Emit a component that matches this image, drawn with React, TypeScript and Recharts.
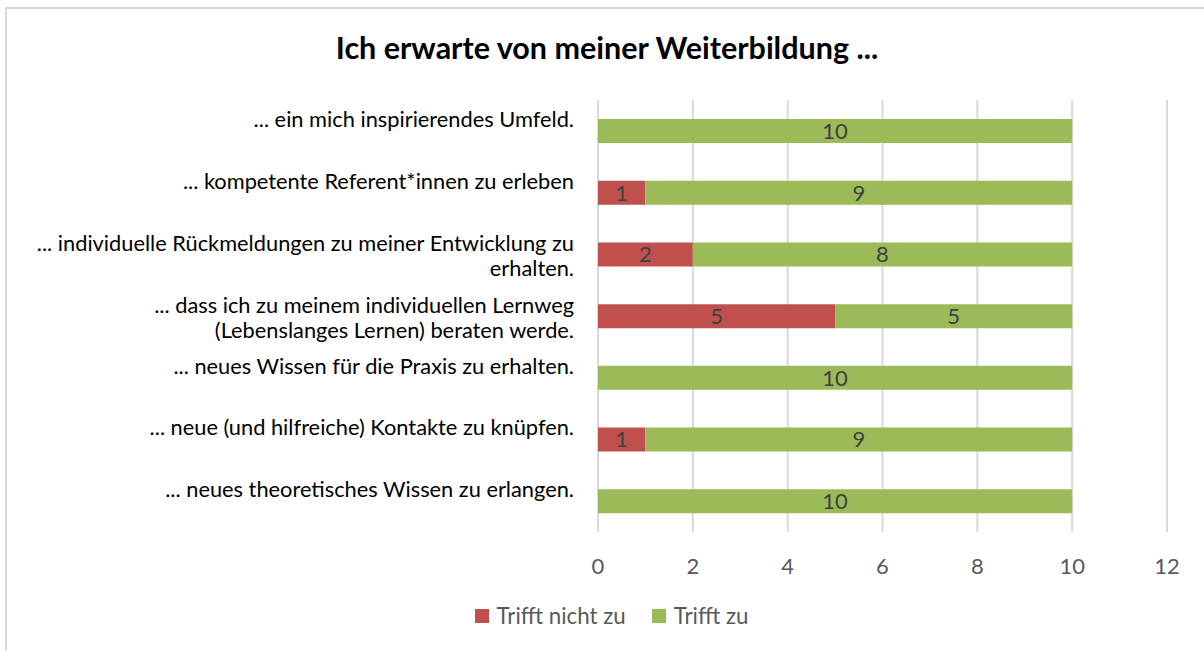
import React from "react";
import { BarChart, Bar, XAxis, YAxis, CartesianGrid, LabelList } from "recharts";

// categories, top to bottom; "\n" marks where the label wraps
const categories = [
  "... ein mich inspirierendes Umfeld.",
  "... kompetente Referent*innen zu erleben",
  "... individuelle Rückmeldungen zu meiner Entwicklung zu\nerhalten.",
  "... dass ich zu meinem individuellen Lernweg\n(Lebenslanges Lernen) beraten werde.",
  "... neues Wissen für die Praxis zu erhalten.",
  "... neue (und hilfreiche) Kontakte zu knüpfen.",
  "... neues theoretisches Wissen zu erlangen.",
];
const triffNichtZu = [0, 1, 2, 5, 0, 1, 0];
const trifftZu = [10, 9, 8, 5, 10, 9, 10];
const xTicks = [0, 2, 4, 6, 8, 10, 12];

const seriesNames = ["Trifft nicht zu", "Trifft zu"];
const colors = ["#C0504D", "#9BBB59"];

const data = categories.map((c, i) => ({
  name: c,
  nicht: triffNichtZu[i],
  zu: trifftZu[i],
}));

const FONT = "Lato, 'Open Sans', sans-serif";

// wrapped labels are top-aligned in their band, like Excel does
const CategoryTick = (props: any) => {
  const { y, payload } = props;
  const lines: string[] = String(payload.value).split("\n");
  const start = lines.length === 1 ? -13 : -12.5;
  return (
    <text
      x={574}
      y={y + start}
      textAnchor="end"
      dominantBaseline="central"
      fontSize={21.8}
      fontFamily={FONT}
      fill="#000"
    >
      {lines.map((l, i) => (
        <tspan key={i} x={574} dy={i === 0 ? 0 : 25}>
          {l}
        </tspan>
      ))}
    </text>
  );
};

const hideZero = (v: any) => (v === 0 ? "" : v);

export default function App() {
  return (
    <div style={{ position: "absolute", left: 0, top: 0, width: 1204, height: 651, background: "#fff", overflow: "hidden" }}>
      <div
        style={{
          position: "absolute",
          left: 5,
          top: 7,
          width: 1300,
          height: 700,
          border: "2px solid #d9d9d9",
          boxSizing: "border-box",
        }}
      />
      <div
        style={{
          position: "absolute",
          left: 0,
          width: 1214,
          top: 29,
          textAlign: "center",
          fontFamily: FONT,
          fontWeight: 700,
          fontSize: 30.5,
          color: "#000",
          lineHeight: "36px",
        }}
      >
        Ich erwarte von meiner Weiterbildung ...
      </div>
      <div style={{ position: "absolute", left: 0, top: 0 }}>
        <BarChart
          width={1204}
          height={651}
          data={data}
          layout="vertical"
          margin={{ top: 100, right: 37, bottom: 89, left: 0 }}
          barCategoryGap={0}
        >
          <CartesianGrid horizontal={false} stroke="#d9d9d9" strokeWidth={2} />
          <XAxis
            type="number"
            domain={[0, 12]}
            ticks={xTicks}
            axisLine={false}
            tickLine={false}
            height={30}
            tickMargin={20}
            tick={{ fill: "#595959", fontSize: 22, fontFamily: FONT }}
            interval={0}
          />
          <YAxis
            type="category"
            dataKey="name"
            width={598}
            axisLine={false}
            tickLine={false}
            tick={<CategoryTick />}
            interval={0}
          />
          <Bar dataKey="nicht" stackId="a" fill={colors[0]} barSize={24} isAnimationActive={false}>
            <LabelList dataKey="nicht" position="center" formatter={hideZero} fill="#404040" fontSize={22} fontFamily={FONT} />
          </Bar>
          <Bar dataKey="zu" stackId="a" fill={colors[1]} barSize={24} isAnimationActive={false}>
            <LabelList dataKey="zu" position="center" formatter={hideZero} fill="#404040" fontSize={22} fontFamily={FONT} />
          </Bar>
        </BarChart>
      </div>
      <div
        style={{
          position: "absolute",
          left: 0,
          width: 1223,
          top: 601,
          display: "flex",
          justifyContent: "center",
          gap: 26,
          fontFamily: FONT,
          fontSize: 22.3,
          color: "#595959",
          lineHeight: "30px",
        }}
      >
        {seriesNames.map((s, i) => (
          <div key={s} style={{ display: "flex", alignItems: "center" }}>
            <span style={{ display: "inline-block", width: 14, height: 14, background: colors[i], marginRight: 8 }} />
            {s}
          </div>
        ))}
      </div>
    </div>
  );
}
